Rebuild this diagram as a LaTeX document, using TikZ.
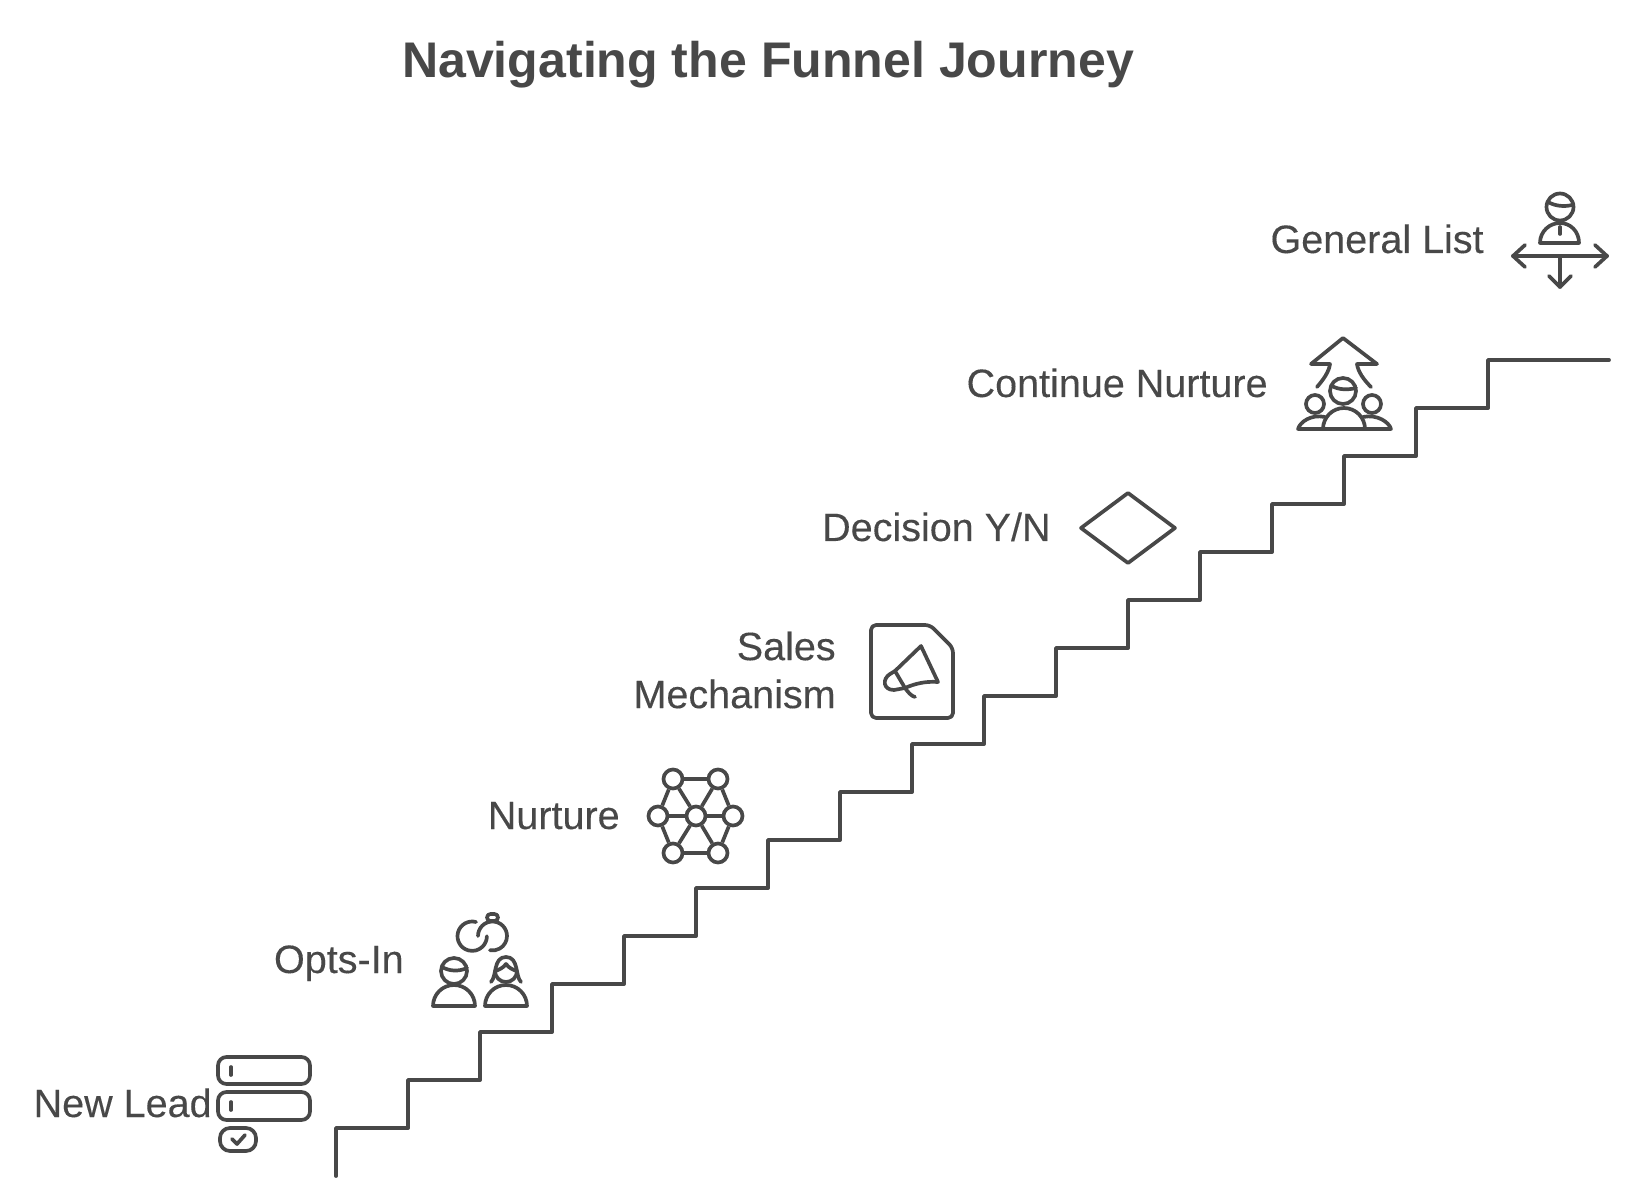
\documentclass[tikz,border=0pt]{standalone}
\usepackage{fontspec}
\setmainfont{Liberation Sans}
\newfontfamily\labelfont[FakeBold=0.2]{Liberation Sans}
\definecolor{inkgrey}{HTML}{484848}
\tikzset{
  stairline/.style={line width=2.2pt, draw=inkgrey, line cap=round, line join=round},
  iconline/.style={line width=2.1pt, draw=inkgrey, line cap=round, line join=round},
  steplabel/.style={anchor=base east, inner sep=0pt, text=inkgrey, font=\labelfont\fontsize{22.5}{27.3}\selectfont, align=right},
  titlelabel/.style={anchor=base, inner sep=0pt, text=inkgrey, font=\fontsize{28.5}{33}\selectfont\bfseries},
  netdot/.style={circle, draw=inkgrey, line width=2.1pt, minimum size=0.38cm, inner sep=0pt},
  netedge/.style={iconline, line cap=butt},
}

\begin{document}
\begin{tikzpicture}[x=0.02cm, y=-0.02cm]
\useasboundingbox (0,0) rectangle (1634,1202);
\node[titlelabel] (title) at (768,78) {Navigating the Funnel Journey};

% staircase
\draw[stairline] (336,1176) -- (336,1128)
  \foreach \n in {1,...,16} { -| ({336+72*\n},{1128-48*\n}) } -- (1609,360);

% labels
\node[steplabel] (newlead) at (212,1117) {New Lead};
\node[steplabel] (optsin) at (404,973) {Opts-In};
\node[steplabel] (nurture) at (620,829) {Nurture};
\node[steplabel, anchor=east] (sales) at (836,670) {Sales\\Mechanism};
\node[steplabel] (decision) at (1051,541) {Decision Y/N};
\node[steplabel] (continue) at (1268,397) {Continue Nurture};
\node[steplabel] (general) at (1484,253) {General List};

% new lead icon
\draw[iconline, rounded corners=0.17cm] (218,1057) rectangle (310,1084);
\draw[iconline, rounded corners=0.17cm] (218,1092) rectangle (310,1120);
\draw[iconline, rounded corners=0.2cm] (220,1128) rectangle (256,1151);
\draw[iconline] (231,1067) -- (231,1075);
\draw[iconline] (231,1102) -- (231,1110);
\draw[iconline] (232,1139) -- (237,1144) -- (245,1135);

% opts-in icon
\draw[iconline] (476,922) arc[start angle=75, end angle=360, radius=0.294cm];
\draw[iconline] (478,936) arc[start angle=180, end angle=-100, radius=0.29cm];
\draw[iconline, rounded corners=0.07cm] (487,914) rectangle (498,921);
\draw[iconline] (454,971) circle[radius=0.26cm];
\draw[iconline] (442,967) .. controls (449,971) and (458,972) .. (467,968);
\draw[iconline] (433,1006) arc[start angle=180, end angle=0, radius=0.42cm] -- cycle;
\draw[iconline] (495,971) arc[start angle=180, end angle=360, radius=0.22cm];
\draw[iconline] (491,982) .. controls (497,976) and (493,957) .. (506,957) .. controls (519,957) and (515,976) .. (521,982);
\draw[iconline] (495,971) .. controls (499,970) and (503,968) .. (506,964) .. controls (509,968) and (513,970) .. (517,971);
\draw[iconline] (485,1006) arc[start angle=180, end angle=0, radius=0.42cm] -- cycle;

% nurture icon
\node[netdot] (netA) at (673,779) {};
\node[netdot] (netB) at (718,779) {};
\node[netdot] (netC) at (658,816) {};
\node[netdot] (netD) at (696,816) {};
\node[netdot] (netE) at (733,816) {};
\node[netdot] (netF) at (673,853) {};
\node[netdot] (netG) at (718,853) {};
\foreach \a/\b in {netA/netB,netF/netG,netC/netD,netD/netE,netA/netC,netC/netF,netB/netE,netE/netG,netA/netD,netB/netD,netF/netD,netG/netD}
  \draw[netedge] (\a) -- (\b);

% sales icon
\draw[iconline, rounded corners=0.1cm] (900,625) -- (930,625) -- (953,648) -- (953,718) -- (871,718) -- (871,625) -- cycle;
\draw[iconline] (895,671) -- (921,646) -- (938,682) .. controls (925,681) and (914,684) .. (905,688) -- cycle;
\draw[iconline] (895,671) -- (890,674) .. controls (882,679) and (883,690) .. (894,690) -- (905,688);
\draw[iconline] (905,688) .. controls (908,692) and (911,696) .. (915,697);

% decision icon
\draw[iconline] (1081,528) -- (1128,493) -- (1175,528) -- (1128,563) -- cycle;

% continue nurture icon
\draw[iconline] (1317,387) .. controls (1323,380) and (1329,372) .. (1330,364) -- (1311,364) -- (1343,338)
  -- (1377,364) -- (1357,364) .. controls (1358,372) and (1364,380) .. (1371,387);
\draw[iconline] (1343,391) circle[radius=0.26cm];
\draw[iconline] (1332,386) .. controls (1339,390) and (1348,390) .. (1356,388);
\draw[iconline] (1315,404) circle[radius=0.18cm];
\draw[iconline] (1372,404) circle[radius=0.18cm];
\draw[iconline] (1323,429) arc[start angle=180, end angle=0, radius=0.42cm] -- cycle;
\draw[iconline] (1325,417) .. controls (1311,414) and (1300,422) .. (1298,429) -- (1323,429);
\draw[iconline] (1363,417) .. controls (1377,414) and (1389,422) .. (1391,429) -- (1365,429);

% general list icon
\draw[iconline] (1560,207) circle[radius=0.27cm];
\draw[iconline] (1548,202) .. controls (1555,206) and (1564,207) .. (1572,205);
\draw[iconline] (1540,243) .. controls (1540,231) and (1550,223) .. (1560,223) .. controls (1570,223) and (1579,231) .. (1579,243) -- cycle;
\draw[iconline] (1560,227) -- (1560,234);
\draw[iconline] (1513,256) -- (1607,256);
\draw[iconline] (1525,245) -- (1513,256) -- (1525,267);
\draw[iconline] (1595,245) -- (1607,256) -- (1595,267);
\draw[iconline] (1560,256) -- (1560,287);
\draw[iconline] (1549,276) -- (1560,287) -- (1571,276);
\end{tikzpicture}
\end{document}
